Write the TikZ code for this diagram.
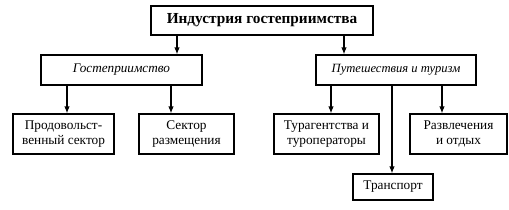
\documentclass[tikz,border=0pt]{standalone}
\usepackage{fontspec}
\setmainfont{Liberation Serif}
\usetikzlibrary{arrows.meta}
\begin{document}
\begin{tikzpicture}[x=1pt,y=1pt,
  box/.style={draw,line width=1.2pt,inner sep=0pt,align=center,font=\fontsize{13.3}{15.5}\selectfont},
  arr/.style={line width=1.2pt,-{Latex[length=7pt,width=5.5pt]}},
  ln/.style={line width=1.2pt}]
\useasboundingbox (0,0) rectangle (509,-209);
\node[box,minimum width=222,minimum height=29,font=\fontsize{15.3}{17}\selectfont\bfseries] (top) at (262,-20.5) {Индустрия гостеприимства};
\node[box,minimum width=161,minimum height=30,font=\fontsize{13.2}{15.5}\selectfont\itshape] (lm) at (121.5,-70) {Гостеприимство};
\node[box,minimum width=160,minimum height=30,font=\fontsize{12.6}{15.5}\selectfont\itshape] (rm) at (396,-70) {Путешествия и туризм};
\node[box,minimum width=101,minimum height=40] (b1) at (63.5,-134) {Продовольст-\\венный сектор};
\node[box,minimum width=95,minimum height=40] (b2) at (186.5,-134) {Сектор\\размещения};
\node[box,minimum width=105,minimum height=40] (b3) at (326.5,-134) {Турагентства и\\туроператоры};
\node[box,minimum width=97,minimum height=40] (b4) at (458.5,-134) {Развлечения\\и отдых};
\node[box,minimum width=80,minimum height=26] (b5) at (393,-187) {Транспорт};
\coordinate (x1) at (177,0);
\coordinate (x2) at (344,0);
\coordinate (x3) at (67,0);
\coordinate (x4) at (171,0);
\coordinate (x5) at (331,0);
\coordinate (x6) at (392,0);
\coordinate (x7) at (442,0);
\draw[arr] (x1 |- top.south) -- (x1 |- lm.north);
\draw[arr] (x2 |- top.south) -- (x2 |- rm.north);
\draw[arr] (x3 |- lm.south) -- (x3 |- b1.north);
\draw[arr] (x4 |- lm.south) -- (x4 |- b2.north);
\draw[arr] (x5 |- rm.south) -- (x5 |- b3.north);
\draw[arr] (x6 |- rm.south) -- (x6 |- b5.north);
\draw[arr] (x7 |- rm.south) -- (x7 |- b4.north);
\end{tikzpicture}
\end{document}
